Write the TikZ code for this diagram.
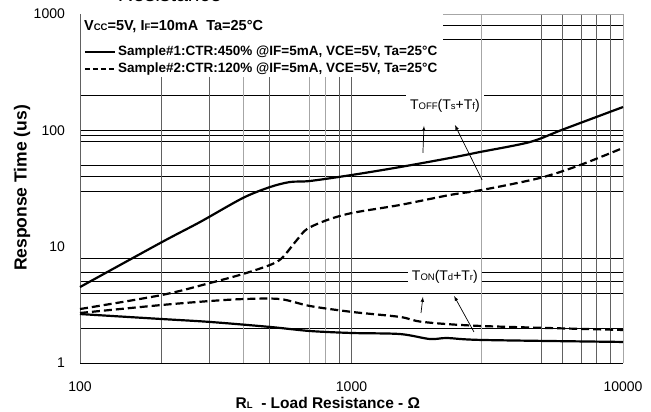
\documentclass[tikz,border=0pt]{standalone}
\usepackage{fontspec}
\setmainfont{Liberation Sans}
\usetikzlibrary{positioning}
\newcommand{\lowtxt}[1]{{\fontsize{9.5bp}{10bp}\selectfont #1}}

\begin{document}
\begin{tikzpicture}[x=271.5bp,y=116.3bp,
		hgrid/.style={line width=0.8bp,black},
		vdark/.style={line width=0.8bp,black!62},
		vlight/.style={line width=0.8bp,black!35},
		curve/.style={line width=2.2bp,line join=round},
		dcurve/.style={curve,dash pattern=on 8bp off 4bp},
		tag/.style={fill=white,inner xsep=4bp,inner ysep=5bp,font=\fontsize{14bp}{16bp}\selectfont},
		ticklab/.style={inner sep=0,font=\fontsize{14bp}{16bp}\selectfont},
		legtxt/.style={inner sep=0,font=\bfseries\fontsize{13.5bp}{15bp}\selectfont},
		pointer/.style={line width=0.7bp,-latex}]
		\useasboundingbox (-0.29466,-0.42132) rectangle (2.10313,3.12124);
		\coordinate (zero) at (0,0);
		\foreach \v in {2,4,5,6,8,30,40,50,80,90,100,200,600,800}
			\draw[hgrid] (0,{log10(\v)}) -- (2,{log10(\v)});
		\node[tag] (toff) at (1.344,2.210) {T\lowtxt{OFF}(T\lowtxt{s}+T\lowtxt{f})};
		\node[tag] (ton) at (1.344,0.739) {T\lowtxt{ON}(T\lowtxt{d}+T\lowtxt{r})};
		\foreach \v in {2,3,5,9,10,50,60,70,80,90}
			\draw[vdark] ({log10(\v)},0) -- ({log10(\v)},3);
		\foreach \v in {4,7,8,30,100}
			\draw[vlight] ({log10(\v)},0) -- ({log10(\v)},3);
		\draw[vlight] (0,3) -- (2,3);
		\fill[white] (0,2.459) rectangle (1.337,3.02);
		\draw[vdark] (zero) -- (0,3);
		\draw[line width=0.9bp] (zero) -- (2,0);
		% response curves
		\draw[curve] plot[smooth, tension=.5] coordinates {(0,0.653) (0.302,1.040) (0.442,1.212) (0.600,1.419) (0.700,1.513) (0.773,1.556) (0.847,1.565) (1.002,1.617) (1.179,1.685) (1.363,1.763) (1.473,1.814) (1.657,1.900) (1.779,2.008) (2,2.201)};
		\draw[dcurve] plot[smooth, tension=.5] coordinates {(0,0.464) (0.302,0.585) (0.479,0.688) (0.600,0.765) (0.700,0.843) (0.744,0.903) (0.799,1.058) (0.836,1.152) (0.910,1.229) (1.002,1.290) (1.179,1.359) (1.363,1.445) (1.481,1.488) (1.694,1.591) (1.842,1.702) (2,1.849)};
		\draw[dcurve] plot[smooth, tension=.5] coordinates {(0,0.430) (0.302,0.499) (0.479,0.533) (0.604,0.550) (0.737,0.550) (0.847,0.490) (1.002,0.439) (1.179,0.396) (1.263,0.353) (1.481,0.318) (2,0.284)};
		\draw[curve] plot[smooth, tension=.5] coordinates {(0,0.421) (0.302,0.378) (0.479,0.353) (0.700,0.310) (0.847,0.275) (1.002,0.258) (1.179,0.249) (1.289,0.206) (1.352,0.215) (1.481,0.198) (2,0.181)};
		\coordinate (offa) at (1.263,1.806);
		\coordinate (offb) at (1.481,1.574);
		\coordinate (offta) at (1.267,2.038);
		\coordinate (offtb) at (1.381,2.046);
		\draw[pointer] (offa) -- (offta);
		\draw[pointer] (offb) -- (offtb);
		\coordinate (ona) at (1.256,0.430);
		\coordinate (onb) at (1.451,0.267);
		\coordinate (onta) at (1.263,0.568);
		\coordinate (ontb) at (1.378,0.576);
		\draw[pointer] (ona) -- (onta);
		\draw[pointer] (onb) -- (ontb);
		% legend
		\node[anchor=west,inner sep=0,font=\bfseries\fontsize{14.5bp}{16bp}\selectfont] (cond) at (0.0147,2.889) {V\lowtxt{CC}=5V, I\lowtxt{F}=10mA\ \ Ta=25°C};
		\coordinate (s1a) at (0.0184,2.677);
		\coordinate[right=30bp of s1a] (s1b);
		\draw[line width=1.8bp] (s1a) -- (s1b);
		\node[legtxt,right=3bp of s1b] (s1txt) {Sample\#1:CTR:450\% @IF=5mA, VCE=5V, Ta=25°C};
		\coordinate (s2a) at (0.0184,2.528);
		\coordinate[right=30bp of s2a] (s2b);
		\draw[line width=1.6bp,dash pattern=on 5bp off 3bp] (s2a) -- (s2b);
		\node[legtxt,right=3bp of s2b] (s2txt) {Sample\#2:CTR:120\% @IF=5mA, VCE=5V, Ta=25°C};
		% axes text
		\node[ticklab,anchor=east] (y1000) at (-0.055,3) {1000};
		\node[ticklab,anchor=east] (y100) at (-0.055,2) {100};
		\node[ticklab,anchor=east] (y10) at (-0.055,1) {10};
		\node[ticklab,anchor=east] (y1) at (-0.055,0) {1};
		\node[ticklab] (x100) at (0,-0.200) {100};
		\node[ticklab] (x1000) at (1,-0.200) {1000};
		\node[ticklab] (x10000) at (2,-0.200) {10000};
		\node[font=\bfseries\fontsize{15.5bp}{17bp}\selectfont] (xlab) at (0.913,-0.345) {R\lowtxt{L}\ \ - Load Resistance - Ω};
		\node[rotate=90,font=\bfseries\fontsize{17.5bp}{19bp}\selectfont] (ylab) at (-0.2136,1.505) {Response Time (us)};
		\node[anchor=base,font=\fontsize{21bp}{23bp}\selectfont] (title) at (0.331,3.112) {Resistance};
\end{tikzpicture}
\end{document}
